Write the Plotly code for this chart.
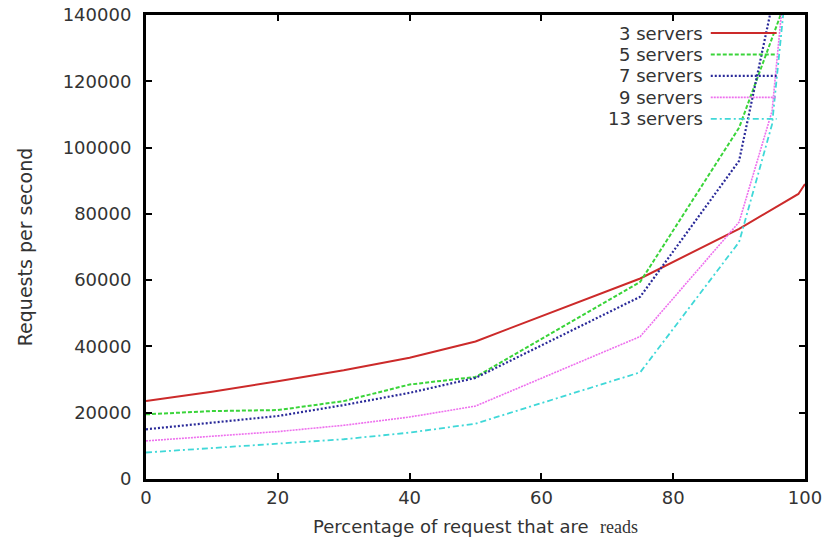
import plotly.graph_objects as go

# Data
x_pct = [0, 10, 20, 30, 40, 50, 75, 90, 95, 100]
x_pct_3 = [0, 10, 20, 30, 40, 50, 75, 90, 99, 100]

srv3 = [23500, 26300, 29500, 32800, 36600, 41500, 60500, 75500, 86000, 89000]
srv5 = [19500, 20500, 20800, 23500, 28500, 30800, 59500, 106000, 133000, 160000]
srv7 = [15000, 17000, 19000, 22300, 26000, 30500, 55000, 96000, 143000, 190000]
srv9 = [11500, 13000, 14300, 16200, 18700, 22000, 43000, 77500, 111000, 215000]
srv13 = [8000, 9300, 10500, 12000, 14000, 16700, 32200, 71500, 107000, 205000]

names = ["3 servers", "5 servers", "7 servers", "9 servers", "13 servers"]
x_ticks = [0, 20, 40, 60, 80, 100]
y_ticks = [0, 20000, 40000, 60000, 80000, 100000, 120000, 140000]

colors = ["#cc2a2a", "#3ad43a", "#2a2a99", "#ee70ee", "#40d8d8"]
dashes = ["solid", "4px,2px", "2px,2px", "2px,1px", "6px,3px,2px,3px"]
widths = [2, 2, 2.2, 1.6, 1.8]

series = [(x_pct_3, srv3), (x_pct, srv5), (x_pct, srv7), (x_pct, srv9), (x_pct, srv13)]

fig = go.Figure()
for (xs, ys), name, c, d, w in zip(series, names, colors, dashes, widths):
    fig.add_trace(go.Scatter(x=xs, y=ys, mode="lines", name=name,
                             line=dict(color=c, dash=d, width=w),
                             showlegend=False))

FONT = "DejaVu Sans"
TXT = "#333333"

# gnuplot-style key: right-aligned text followed by line sample
key_right = 0.848   # paper x of text right edge
sample_x0, sample_x1 = 0.857, 0.957
row_top, row_step = 0.961, 0.0462
for i, (name, c, d, w) in enumerate(zip(names, colors, dashes, widths)):
    yy = row_top - i * row_step
    fig.add_annotation(x=key_right, y=yy, xref="paper", yref="paper",
                       text=name, showarrow=False, xanchor="right", yanchor="middle",
                       font=dict(family=FONT, size=18, color=TXT))
    fig.add_shape(type="line", xref="paper", yref="paper",
                  x0=sample_x0, x1=sample_x1, y0=yy, y1=yy,
                  line=dict(color=c, dash=d, width=w))

axis_common = dict(showline=True, mirror="allticks", linecolor="black", linewidth=3,
                   ticks="inside", ticklen=6, tickwidth=2, tickcolor="black",
                   showgrid=False, zeroline=False, ticklabeloverflow="allow",
                   tickfont=dict(family=FONT, size=18, color=TXT))

fig.update_xaxes(range=[0, 100], tickvals=x_ticks, ticktext=[str(v) for v in x_ticks],
                 title=dict(text="Percentage of request that are&nbsp;&nbsp;<span style='font-family:Liberation Serif'>reads</span>",
                            font=dict(family=FONT, size=18, color=TXT),
                            standoff=14),
                 **axis_common)
fig.update_yaxes(range=[0, 140000], tickvals=y_ticks, ticktext=[str(v) for v in y_ticks],
                 ticklabelstandoff=8,
                 title=dict(text="Requests per second",
                            font=dict(family=FONT, size=19, color=TXT),
                            standoff=26),
                 **axis_common)

fig.update_layout(width=827, height=541,
                  margin=dict(l=146, r=22, t=15, b=62, autoexpand=False),
                  paper_bgcolor="white", plot_bgcolor="white")

# remove the default 8px page margin so the figure sits at the window's corner
fig.write_html("out.html", config={"displayModeBar": False},
               post_script="document.body.style.margin='0px';")
